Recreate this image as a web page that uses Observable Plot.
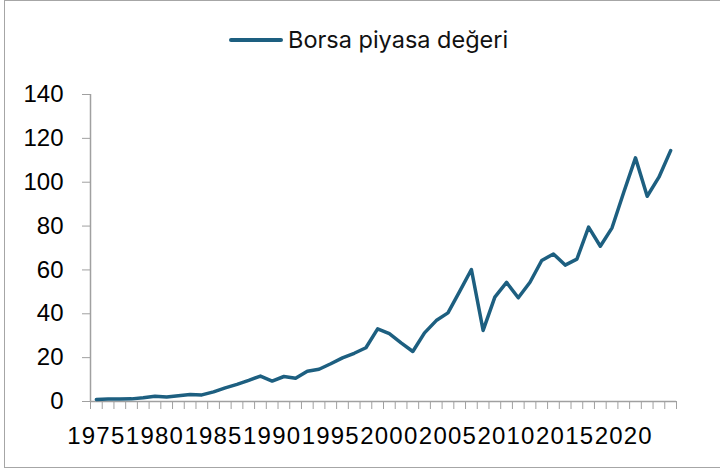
<!DOCTYPE html>
<html>
<head>
<meta charset="utf-8">
<script src="https://cdn.jsdelivr.net/npm/d3@7"></script>
<script src="https://cdn.jsdelivr.net/npm/@observablehq/plot@0.6"></script>
<style>
  html, body { margin: 0; padding: 0; background: #fff; }
  #wrap { position: relative; width: 720px; height: 470px; overflow: hidden; background: #fff; }
  #frame { position: absolute; left: 4px; top: 0px; width: 720px; height: 468px; border: 1.5px solid #a6a6a6; box-sizing: border-box; pointer-events: none; }
  #legend { position: relative; height: 70px; width: 720px; }
  #legend .sw { position: absolute; left: 229px; top: 38px; width: 54px; height: 4px; border-radius: 2px; background: #1d5f80; }
  #legend .lbl { position: absolute; left: 288px; top: 25px; font-family: Inter, "Liberation Sans", sans-serif; font-size: 23.5px; color: #111; line-height: 30px; white-space: nowrap; }
  svg { display: block; }
  .xlab text { letter-spacing: 1.2px; }
</style>
</head>
<body>
<div id="wrap">
  <div id="legend"><div class="sw"></div><div class="lbl">Borsa piyasa değeri</div></div>
  <div id="chart"></div>
  <div id="frame"></div>
</div>
<script>
const seriesName = "Borsa piyasa değeri";
const years = [1975,1976,1977,1978,1979,1980,1981,1982,1983,1984,
               1985,1986,1987,1988,1989,1990,1991,1992,1993,1994,
               1995,1996,1997,1998,1999,2000,2001,2002,2003,2004,
               2005,2006,2007,2008,2009,2010,2011,2012,2013,2014,
               2015,2016,2017,2018,2019,2020,2021,2022,2023,2024];
const values = [0.9,1.1,1.1,1.2,1.7,2.4,2.0,2.6,3.2,3.0,
                4.4,6.2,7.8,9.6,11.6,9.3,11.4,10.6,13.8,14.7,
                17.2,19.9,22.0,24.5,33.1,30.9,26.7,22.8,31.3,36.9,
                40.4,50.2,60.2,32.4,47.6,54.3,47.3,54.4,64.3,67.3,
                62.2,64.9,79.5,70.8,79.2,95.4,111.1,93.6,102.3,114.4];
const xTickLabels = [1975,1980,1985,1990,1995,2000,2005,2010,2015,2020];
const yTicks = [0,20,40,60,80,100,120,140];

const data = years.map((y, i) => ({year: y, value: values[i]}));
const x0 = years[0] - 0.5, x1 = years[years.length - 1] + 0.5;
const boundaries = years.map(y => y - 0.5).concat([x1]);
const axisColor = "#a0a0a0";
const lineColor = "#1d5f80";

const chart = Plot.plot({
  width: 720,
  height: 400,
  marginTop: 24,
  marginBottom: 69,
  marginLeft: 90,
  marginRight: 44,
  style: { fontFamily: "'Liberation Sans', Arial, sans-serif", fontSize: "24px", color: "#000", background: "transparent" },
  x: { type: "linear", domain: [x0, x1] },
  y: { domain: [0, 140] },
  marks: [
    Plot.axisY({ ticks: yTicks, tickSize: 8, tickPadding: 19, stroke: axisColor, fill: "#000", label: null, fontSize: 24 }),
    Plot.axisX({ ticks: boundaries, tickSize: 8, tickFormat: () => "", stroke: axisColor, label: null }),
    Plot.axisX({ ticks: xTickLabels, tickSize: 0, tickPadding: 25, tickFormat: d => String(d), fill: "#000", label: null, fontSize: 24, className: "xlab" }),
    Plot.ruleX([x0], { y1: 0, y2: 140, stroke: axisColor, strokeWidth: 1.5 }),
    Plot.ruleY([0], { x1: x0, x2: x1, stroke: axisColor, strokeWidth: 1.5 }),
    Plot.line(data, { x: "year", y: "value", stroke: lineColor, strokeWidth: 3.5, strokeLinejoin: "round", strokeLinecap: "round" })
  ]
});
document.getElementById("chart").appendChild(chart);
</script>
</body>
</html>
